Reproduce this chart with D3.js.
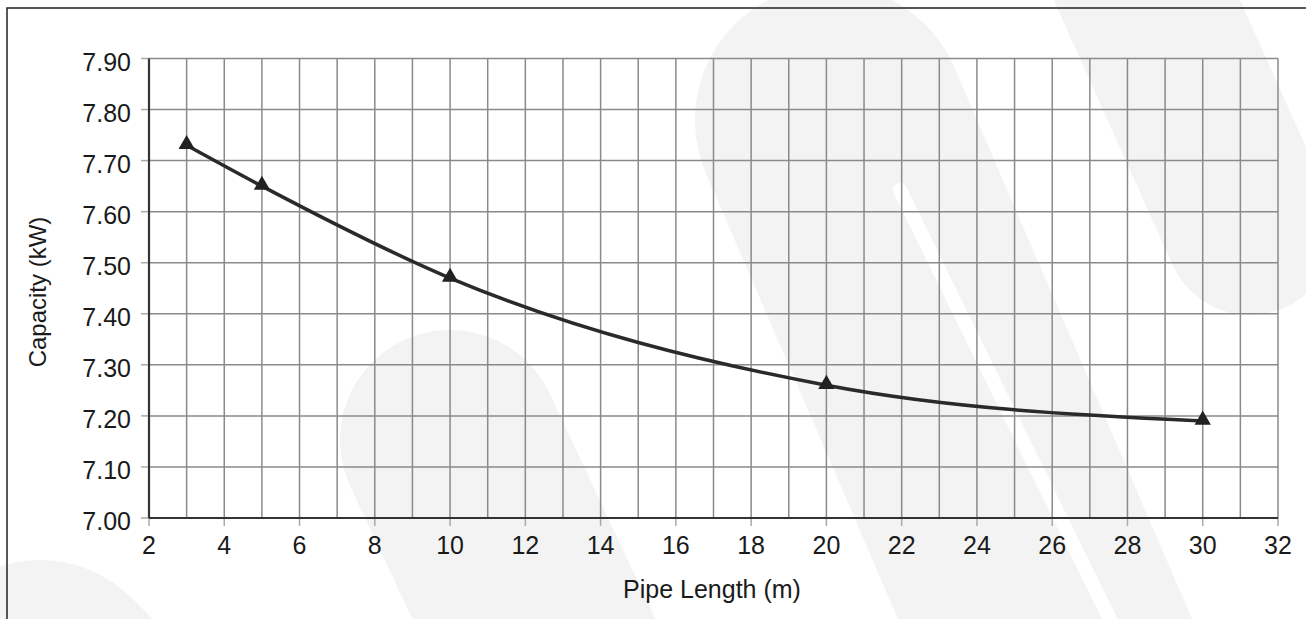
<!DOCTYPE html>
<html><head><meta charset="utf-8">
<script src="https://cdn.jsdelivr.net/npm/d3@7"></script>
<style>body{margin:0;background:#fff;} svg{display:block;}</style>
</head><body>
<svg id="c" width="1306" height="619"></svg>
<script>
const pipeLength = [3, 5, 10, 20, 30];
const capacity = [7.73, 7.65, 7.47, 7.26, 7.19];
const xTickValues = [2,4,6,8,10,12,14,16,18,20,22,24,26,28,30,32];
const yTickValues = [7.00,7.10,7.20,7.30,7.40,7.50,7.60,7.70,7.80,7.90];
const xTitle = "Pipe Length (m)";
const yTitle = "Capacity (kW)";

const svg = d3.select("#c");
const W = 1306, H = 619;
const m = {left:149, right:1278, top:58.5, bottom:518};

// watermark
const wm = svg.append("g").attr("fill","none").attr("stroke","#f3f3f3").attr("stroke-linecap","round");
wm.append("line").attr("x1",830).attr("y1",120).attr("x2",1080).attr("y2",700).attr("stroke-width",270);
wm.append("line").attr("x1",1120).attr("y1",-60).attr("x2",1250).attr("y2",230).attr("stroke-width",170);
wm.append("line").attr("x1",450).attr("y1",440).attr("x2",600).attr("y2",760).attr("stroke-width",220);
wm.append("line").attr("x1",40).attr("y1",690).attr("x2",60).attr("y2",710).attr("stroke-width",260);
const wl = svg.append("g").attr("fill","none").attr("stroke","#fff").attr("stroke-linecap","round");
wl.append("line").attr("x1",900).attr("y1",190).attr("x2",1120).attr("y2",640).attr("stroke-width",14);

// outer border
svg.append("rect").attr("x",7).attr("y",8).attr("width",W+20).attr("height",H+20)
  .attr("fill","none").attr("stroke","#222").attr("stroke-width",1.5);

const x = d3.scaleLinear().domain([2,32]).range([m.left,m.right]);
const y = d3.scaleLinear().domain([7.0,7.9]).range([m.bottom,m.top]);

const g = svg.append("g");
// vertical grid
g.selectAll(".vg").data(d3.range(3,33)).enter().append("line")
  .attr("x1",d=>x(d)).attr("x2",d=>x(d)).attr("y1",m.top).attr("y2",m.bottom)
  .attr("stroke","#8a8a8a").attr("stroke-width",1.5);
// horizontal grid
g.selectAll(".hg").data(yTickValues.slice(1)).enter().append("line")
  .attr("x1",m.left).attr("x2",m.right).attr("y1",d=>y(d)).attr("y2",d=>y(d))
  .attr("stroke","#8a8a8a").attr("stroke-width",1.5);
// tick marks
g.selectAll(".xt").data(xTickValues).enter().append("line")
  .attr("x1",d=>x(d)).attr("x2",d=>x(d)).attr("y1",m.bottom).attr("y2",m.bottom+8)
  .attr("stroke","#aaa").attr("stroke-width",1.5);
g.selectAll(".yt").data(yTickValues).enter().append("line")
  .attr("x1",m.left-8).attr("x2",m.left).attr("y1",d=>y(d)).attr("y2",d=>y(d))
  .attr("stroke","#aaa").attr("stroke-width",1.5);
// axes lines
g.append("line").attr("x1",m.left).attr("x2",m.left).attr("y1",m.top).attr("y2",m.bottom)
  .attr("stroke","#333").attr("stroke-width",2.2);
g.append("line").attr("x1",m.left).attr("x2",m.right).attr("y1",m.bottom).attr("y2",m.bottom)
  .attr("stroke","#333").attr("stroke-width",2.2);

const font = "'Liberation Sans', Arial, sans-serif";
g.selectAll(".xl").data(xTickValues).enter().append("text")
  .attr("x",d=>x(d)).attr("y",554).attr("text-anchor","middle")
  .attr("font-family",font).attr("font-size",25).attr("fill","#1a1a1a").text(d=>d);
g.selectAll(".yl").data(yTickValues).enter().append("text")
  .attr("x",131).attr("y",d=>y(d)+12).attr("text-anchor","end")
  .attr("font-family",font).attr("font-size",25).attr("fill","#1a1a1a").text(d=>d.toFixed(2));

svg.append("text").attr("x",712).attr("y",598).attr("text-anchor","middle")
  .attr("font-family",font).attr("font-size",25).attr("fill","#1a1a1a").text(xTitle);
svg.append("text").attr("transform","translate(46,292) rotate(-90)").attr("text-anchor","middle")
  .attr("font-family",font).attr("font-size",24).attr("fill","#1a1a1a").text(yTitle);

const pts = pipeLength.map((d,i)=>[d,capacity[i]]);
const line = d3.line().x(d=>x(d[0])).y(d=>y(d[1])).curve(d3.curveMonotoneX);
g.append("path").attr("d",line(pts)).attr("fill","none").attr("stroke","#2a2a2a").attr("stroke-width",3.5);
g.selectAll(".mk").data(pts).enter().append("path")
  .attr("d",d3.symbol().type(d3.symbolTriangle).size(115))
  .attr("transform",d=>`translate(${x(d[0])},${y(d[1])-1})`)
  .attr("fill","#222");
</script>
</body></html>
